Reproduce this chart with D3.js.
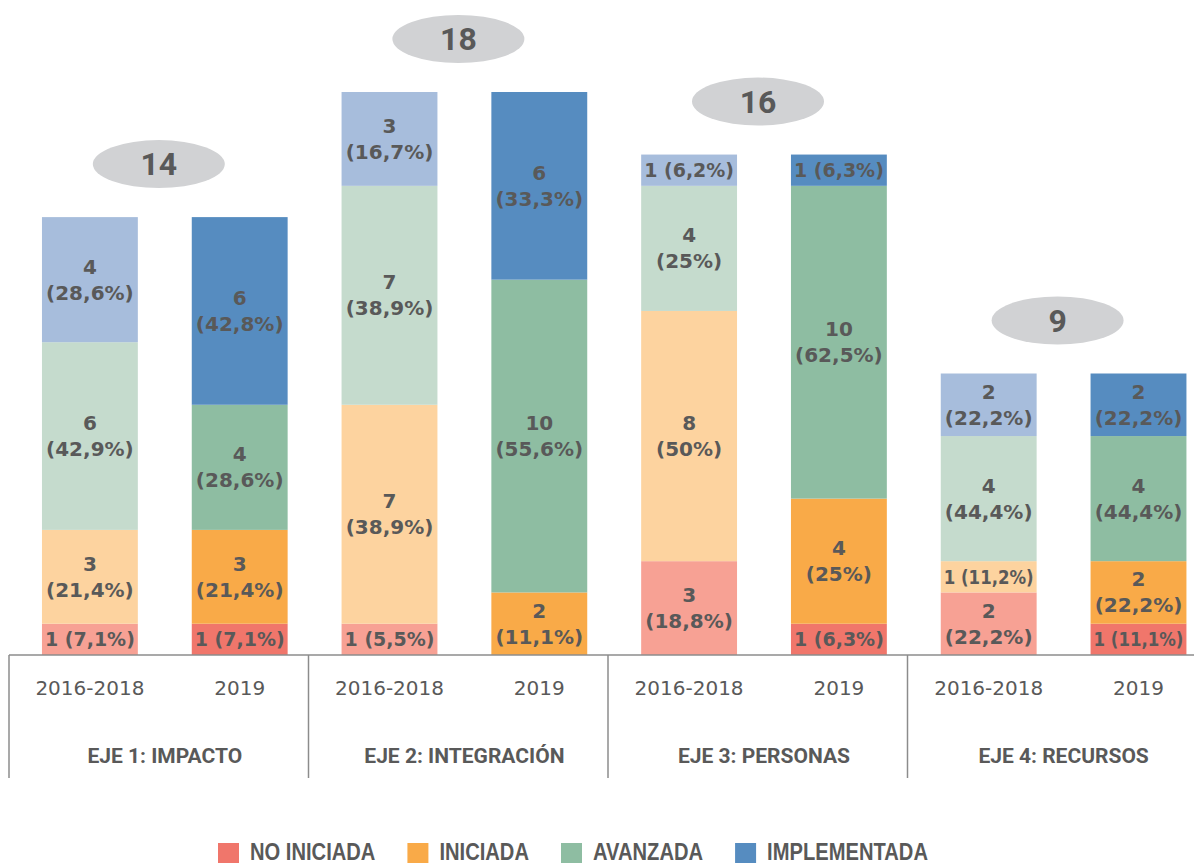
<!DOCTYPE html>
<html>
<head>
<meta charset="utf-8">
<script src="https://cdnjs.cloudflare.com/ajax/libs/d3/7.8.5/d3.min.js"></script>
<style>
  body { margin: 0; background: #fff; }
  svg { display: block; }
</style>
</head>
<body>
<svg id="chart"></svg>
<script>
var GROUPS = ["EJE 1: IMPACTO", "EJE 2: INTEGRACIÓN", "EJE 3: PERSONAS", "EJE 4: RECURSOS"];
var PERIODS = ["2016-2018", "2019"];
var STATUS = ["NO INICIADA", "INICIADA", "AVANZADA", "IMPLEMENTADA"];
var TOTALS = [14, 18, 16, 9];

// one value per bar: E1 16-18, E1 2019, E2 16-18, E2 2019, ...
var NO_INICIADA = [1, 1, 1, 0, 3, 1, 2, 1];
var INICIADA = [3, 3, 7, 2, 8, 4, 1, 2];
var AVANZADA = [6, 4, 7, 10, 4, 10, 4, 4];
var IMPLEMENTADA = [4, 6, 3, 6, 1, 1, 2, 2];

var PCT_NO_INICIADA = ["7,1%", "7,1%", "5,5%", "", "18,8%", "6,3%", "22,2%", "11,1%"];
var PCT_INICIADA = ["21,4%", "21,4%", "38,9%", "11,1%", "50%", "25%", "11,2%", "22,2%"];
var PCT_AVANZADA = ["42,9%", "28,6%", "38,9%", "55,6%", "25%", "62,5%", "44,4%", "44,4%"];
var PCT_IMPLEMENTADA = ["28,6%", "42,8%", "16,7%", "33,3%", "6,2%", "6,3%", "22,2%", "22,2%"];

var COLOR_2019 = {"NO INICIADA": "#f0766b", "INICIADA": "#f9aa48", "AVANZADA": "#8ebda2", "IMPLEMENTADA": "#568cc0"};
var COLOR_OLD = {"NO INICIADA": "#f7a194", "INICIADA": "#fdd39f", "AVANZADA": "#c5dbcd", "IMPLEMENTADA": "#a7bddc"};

var TEXT_COLOR = "#595959";
var LINE_COLOR = "#8c8c8c";
var W = 1194, H = 863;
var BASE_Y = 655;

var svg = d3.select("#chart").attr("width", W).attr("height", H);

// build bar records
var bars = [];
GROUPS.forEach(function(g, gi) {
    PERIODS.forEach(function(p, pi) {
        var k = gi * 2 + pi;
        bars.push({key: g + "|" + p, group: g, period: p, gi: gi, total: TOTALS[gi],
            values: [NO_INICIADA[k], INICIADA[k], AVANZADA[k], IMPLEMENTADA[k]],
            pcts: [PCT_NO_INICIADA[k], PCT_INICIADA[k], PCT_AVANZADA[k], PCT_IMPLEMENTADA[k]]});
    });
});

var x = d3.scaleBand().domain(bars.map(function(d) { return d.key; }))
    .range([15, 15 + 149.8 * 8]).paddingInner(0.36).paddingOuter(0.18);
var xGroup = d3.scaleBand().domain(GROUPS).range([9, 1207]);
var y = d3.scaleLinear().domain([0, 18]).range([BASE_Y, 92]);

// segments
var segs = [];
bars.forEach(function(b) {
    var acc = 0;
    STATUS.forEach(function(s, si) {
        var v = b.values[si];
        if (v > 0) {
            segs.push({bar: b, status: s, v: v, y0: acc, y1: acc + v, pct: b.pcts[si]});
        }
        acc += v;
    });
});

var gBars = svg.append("g");
gBars.selectAll("rect").data(segs).enter().append("rect")
    .attr("x", function(d) { return x(d.bar.key); })
    .attr("width", x.bandwidth())
    .attr("y", function(d) { return y(d.y1); })
    .attr("height", function(d) { return y(d.y0) - y(d.y1); })
    .attr("fill", function(d) { return d.bar.period == "2019" ? COLOR_2019[d.status] : COLOR_OLD[d.status]; });

// segment labels
var gLab = svg.append("g")
    .attr("font-family", "'DejaVu Sans', sans-serif")
    .attr("font-weight", "bold")
    .attr("font-size", 20)
    .attr("fill", TEXT_COLOR)
    .attr("text-anchor", "middle");

segs.forEach(function(d) {
    var cx = x(d.bar.key) + x.bandwidth() / 2;
    var cy = (y(d.y0) + y(d.y1)) / 2;
    if (d.v == 1) {
        var t = gLab.append("text").attr("x", cx).attr("y", cy + 7).text(d.v + " (" + d.pct + ")");
        var maxw = x.bandwidth() - 6;
        if (t.node().getComputedTextLength() > maxw) {
            t.attr("textLength", maxw).attr("lengthAdjust", "spacingAndGlyphs");
        }
    } else {
        gLab.append("text").attr("x", cx).attr("y", cy - 6).text(d.v);
        gLab.append("text").attr("x", cx).attr("y", cy + 20).text("(" + d.pct + ")");
    }
});

// total bubbles
var gTot = svg.append("g");
GROUPS.forEach(function(g, gi) {
    var b0 = bars[gi * 2], b1 = bars[gi * 2 + 1];
    var cx = (x(b0.key) + x(b1.key) + x.bandwidth()) / 2 - 6;
    var cy = y(TOTALS[gi]) - 53;
    gTot.append("ellipse").attr("cx", cx).attr("cy", cy).attr("rx", 66).attr("ry", 24).attr("fill", "#d1d2d4");
    gTot.append("text").attr("x", cx).attr("y", cy + 11)
        .attr("text-anchor", "middle")
        .attr("font-family", "Roboto, sans-serif").attr("font-weight", "bold").attr("font-size", 32)
        .attr("fill", TEXT_COLOR).text(TOTALS[gi]);
});

// axis: baseline, separators, labels
var gAxis = svg.append("g");
gAxis.append("line").attr("x1", 9).attr("x2", W).attr("y1", BASE_Y).attr("y2", BASE_Y)
    .attr("stroke", LINE_COLOR).attr("stroke-width", 1.5);
gAxis.selectAll(".sep").data(GROUPS).enter().append("line").attr("class", "sep")
    .attr("x1", function(d) { return xGroup(d); }).attr("x2", function(d) { return xGroup(d); })
    .attr("y1", BASE_Y).attr("y2", 778)
    .attr("stroke", LINE_COLOR).attr("stroke-width", 1.5);

gAxis.selectAll(".tick").data(bars).enter().append("text").attr("class", "tick")
    .attr("x", function(d) { return x(d.key) + x.bandwidth() / 2; })
    .attr("y", 695)
    .attr("text-anchor", "middle")
    .attr("font-family", "'DejaVu Sans', sans-serif").attr("font-size", 20)
    .attr("fill", TEXT_COLOR)
    .text(function(d) { return d.period; });

gAxis.selectAll(".glab").data(GROUPS).enter().append("text").attr("class", "glab")
    .attr("x", function(d, i) { return (x(bars[i * 2].key) + x(bars[i * 2 + 1].key) + x.bandwidth()) / 2; })
    .attr("y", 763)
    .attr("text-anchor", "middle")
    .attr("font-family", "Roboto, sans-serif").attr("font-weight", "bold").attr("font-size", 21)
    .attr("fill", TEXT_COLOR)
    .text(function(d) { return d; });

// legend (condensed look: squeeze Liberation Sans Bold horizontally)
var SQUEEZE = 0.84;
var gLeg = svg.append("g");
var lx = 218;
STATUS.forEach(function(s) {
    gLeg.append("rect").attr("x", lx).attr("y", 843).attr("width", 21).attr("height", 20).attr("fill", COLOR_2019[s]);
    var t = gLeg.append("text")
        .attr("transform", "translate(" + (lx + 32) + ",860) scale(" + SQUEEZE + ",1)")
        .attr("font-family", "'Liberation Sans', Arial, sans-serif")
        .attr("font-weight", "bold").attr("font-size", 24)
        .attr("fill", TEXT_COLOR).text(s);
    lx += 32 + t.node().getComputedTextLength() * SQUEEZE + 32;
});
</script>
</body>
</html>
